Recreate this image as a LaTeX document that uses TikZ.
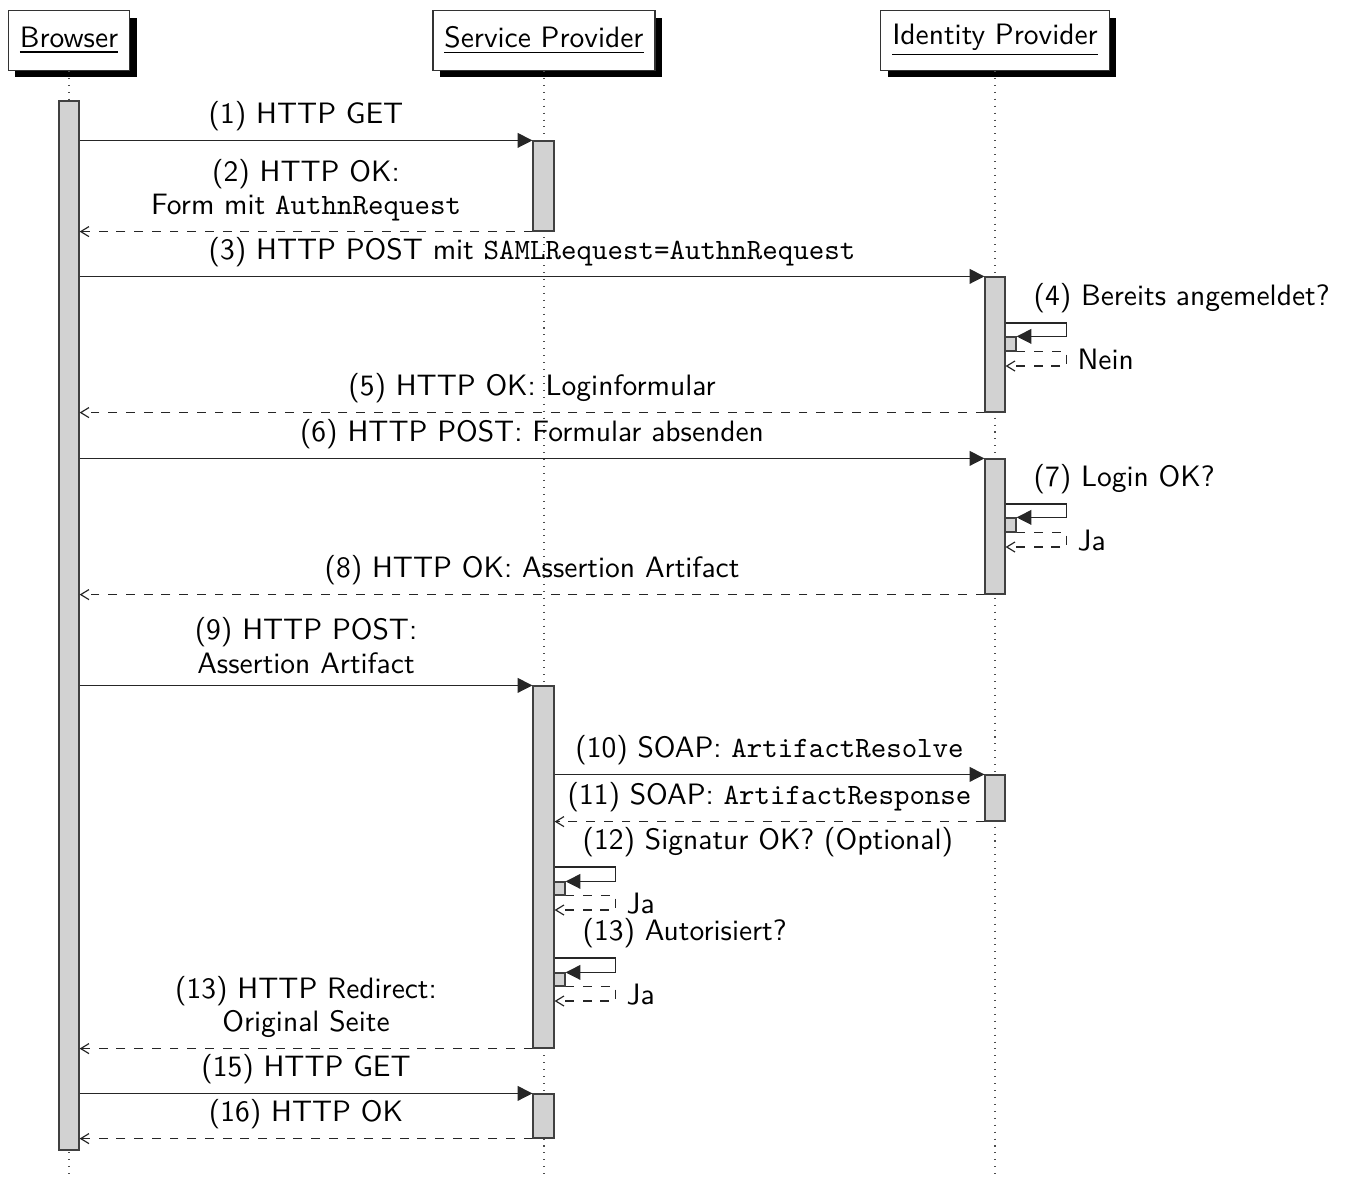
\documentclass[tikz,border=0pt]{standalone}
\usepackage{fontspec}
\usetikzlibrary{arrows.meta,fit,shadows}
\definecolor{actfill}{RGB}{210,210,210}
\tikzset{
  instbox/.style={draw=black!80, fill=white, font=\sffamily, line width=0.4pt,
    inner xsep=3.9pt, inner ysep=2pt, minimum height=20.3pt,
    drop shadow={shadow xshift=2.4pt, shadow yshift=-2.4pt, fill=black, opacity=1}},
  life/.style={dotted, line width=0.35pt, draw=black!70},
  actbar/.style={draw=black!75, fill=actfill, inner sep=0pt, line width=0.4pt},
  callmsg/.style={-{Triangle[length=5pt,width=5pt]}, line width=0.4pt, draw=black!85},
  retmsg/.style={dashed, -{Straight Barb[length=2.8pt,width=3.4pt]}, line width=0.4pt, draw=black!85},
  msglbl/.style={font=\sffamily\fontsize{10}{11.3}\selectfont, inner sep=0pt, anchor=base, align=center},
  onelbl/.style={msglbl, midway, yshift=5.8pt},
  sidelbl/.style={font=\sffamily, inner sep=0pt, anchor=base west}
}
\begin{document}
\begin{tikzpicture}[x=0.339pt, y=-0.339pt]
  \useasboundingbox (0,0) rectangle (1348,1180);

  % instance headers
  \node[instbox, anchor=south] (browser) at (69,71)  {\underline{Browser}};
  \node[instbox, anchor=south] (sp)      at (544,71) {\underline{Service Provider}};
  \node[instbox, anchor=south] (idp)     at (995,71) {\underline{Identity Provider}};

  % lifelines
  \coordinate (browserEnd) at (69,1180);
  \coordinate (spEnd)      at (544,1180);
  \coordinate (idpEnd)     at (995,1180);
  \draw[life] (browser.south) -- (browserEnd);
  \draw[life] (sp.south) -- (spEnd);
  \draw[life] (idp.south) -- (idpEnd);

  % activation bars
  \node[actbar, fit={(59,101) (79,1150)}]   (bB)  {};
  \node[actbar, fit={(533,141) (554,231)}]  (sA)  {};
  \node[actbar, fit={(533,686) (554,1048)}] (sB)  {};
  \node[actbar, fit={(533,1094) (554,1138)}] (sC) {};
  \node[actbar, fit={(985,277) (1005,412)}] (iA)  {};
  \node[actbar, fit={(985,459) (1005,594)}] (iB)  {};
  \node[actbar, fit={(985,775) (1005,821)}] (iC)  {};
  % nested activations of the self calls
  \node[actbar, fit={(1005,337) (1016,351)}] (iA1) {};
  \node[actbar, fit={(1005,518) (1016,532)}] (iB1) {};
  \node[actbar, fit={(554,882) (565,895)}]   (sB1) {};
  \node[actbar, fit={(554,973) (565,986)}]   (sB2) {};

  % (1) - (3)
  \draw[callmsg] (bB.east |- sA.north) -- (sA.north west)
    node[onelbl] {(1) HTTP GET};
  \draw[retmsg] (sA.south west) -- (bB.east |- sA.south)
    node[onelbl] {(2) HTTP OK:\\Form mit \texttt{AuthnRequest}};
  \draw[callmsg] (bB.east |- iA.north) -- (iA.north west)
    node[onelbl] {(3) HTTP POST mit \texttt{SAMLRequest=AuthnRequest}};

  % (4) self call
  \draw[callmsg] (iA.east |- 0,323) -- ++(61,0) |- (iA1.north east);
  \draw[retmsg] (iA1.south east) -- ++(50,0) |- (iA.east |- 0,366);
  \node[sidelbl] (l4)  at (1033,305) {(4) Bereits angemeldet?};
  \node[sidelbl] (l4r) at (1077,369) {Nein};

  % (5) - (6)
  \draw[retmsg] (iA.south west) -- (bB.east |- iA.south)
    node[onelbl] {(5) HTTP OK: Loginformular};
  \draw[callmsg] (bB.east |- iB.north) -- (iB.north west)
    node[onelbl] {(6) HTTP POST: Formular absenden};

  % (7) self call
  \draw[callmsg] (iB.east |- 0,504) -- ++(61,0) |- (iB1.north east);
  \draw[retmsg] (iB1.south east) -- ++(50,0) |- (iB.east |- 0,547);
  \node[sidelbl] (l7)  at (1033,486) {(7) Login OK?};
  \node[sidelbl] (l7r) at (1077,550) {Ja};

  % (8) - (11)
  \draw[retmsg] (iB.south west) -- (bB.east |- iB.south)
    node[onelbl] {(8) HTTP OK: Assertion Artifact};
  \draw[callmsg] (bB.east |- sB.north) -- (sB.north west)
    node[onelbl, yshift=-1.6pt] {(9) HTTP POST:\\Assertion Artifact};
  \draw[callmsg] (sB.east |- iC.north) -- (iC.north west)
    node[onelbl] {(10) SOAP: \texttt{ArtifactResolve}};
  \draw[retmsg] (iC.south west) -- (sB.east |- iC.south)
    node[onelbl] {(11) SOAP: \texttt{ArtifactResponse}};

  % (12) self call
  \draw[callmsg] (sB.east |- 0,867) -- ++(61,0) |- (sB1.north east);
  \draw[retmsg] (sB1.south east) -- ++(50,0) |- (sB.east |- 0,910);
  \node[sidelbl] (l12)  at (582,849) {(12) Signatur OK? (Optional)};
  \node[sidelbl] (l12r) at (626,913) {Ja};

  % (13) self call
  \draw[callmsg] (sB.east |- 0,958) -- ++(61,0) |- (sB2.north east);
  \draw[retmsg] (sB2.south east) -- ++(50,0) |- (sB.east |- 0,1001);
  \node[sidelbl] (l13)  at (582,940) {(13) Autorisiert?};
  \node[sidelbl] (l13r) at (626,1004) {Ja};

  % redirect and final request
  \draw[retmsg] (sB.south west) -- (bB.east |- sB.south)
    node[onelbl] {(13) HTTP Redirect:\\Original Seite};
  \draw[callmsg] (bB.east |- sC.north) -- (sC.north west)
    node[onelbl] {(15) HTTP GET};
  \draw[retmsg] (sC.south west) -- (bB.east |- sC.south)
    node[onelbl] {(16) HTTP OK};
\end{tikzpicture}
\end{document}
